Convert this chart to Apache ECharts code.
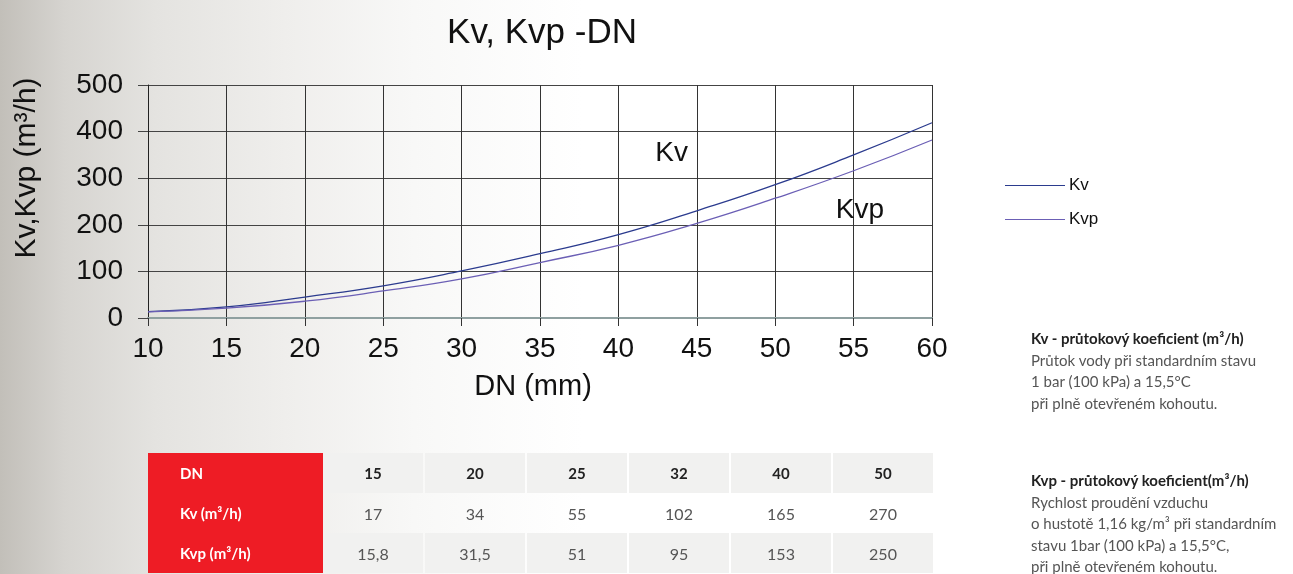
<!DOCTYPE html>
<html>
<head>
<meta charset="utf-8">
<script src="https://cdn.jsdelivr.net/npm/echarts@6/dist/echarts.min.js"></script>
<style>
  html, body { margin: 0; padding: 0; }
  body {
    width: 1293px; height: 574px; overflow: hidden; position: relative;
    background: linear-gradient(to right, #c2bfb9 0%, #d6d4d0 5%, #e4e3e0 12%, #efeeec 22%, #f8f8f7 32%, #ffffff 45%);
  }
  #chart { position: absolute; left: 0; top: 0; width: 1293px; height: 574px; }
  #table { position: absolute; left: 148px; top: 453px; font-family: Lato, "Noto Sans", sans-serif; }
  .row { display: flex; height: 40px; }
  .cell { width: 100px; margin-right: 2px; display: flex; align-items: center; justify-content: center;
    font-size: 16px; color: #555; }
  .head { width: 175px; margin-right: 0; background: #ee1c25; color: #fff; font-weight: bold;
    justify-content: flex-start; padding-left: 32px; box-sizing: border-box; font-size: 15px; }
  .gray .cell:not(.head) { background: #f1f1f0; }
  .dn .cell:not(.head) { font-weight: bold; color: #222; font-size: 15px; }
  .note { position: absolute; left: 1031px; font-family: Lato, "Noto Sans", sans-serif; font-size: 15px;
    line-height: 21.5px; color: #555; white-space: nowrap; }
  .note b { color: #222; font-size: 15px; }
</style>
</head>
<body>
<div id="chart"></div>
<div id="table"></div>
<div class="note" style="top:328px"><b>Kv - průtokový koeficient (m³/h)</b><br>Průtok vody při standardním stavu<br>1 bar (100 kPa) a 15,5°C<br>při plně otevřeném kohoutu.</div>
<div class="note" style="top:470px"><b>Kvp - průtokový koeficient(m³/h)</b><br>Rychlost proudění vzduchu<br>o hustotě 1,16 kg/m³ při standardním<br>stavu 1bar (100 kPa) a 15,5°C,<br>při plně otevřeném kohoutu.</div>
<script>
// Data
const dnValues = [10, 15, 20, 25, 30, 35, 40, 45, 50, 55, 60];
const kvValues = [13.5, 24, 45, 69, 101, 138, 179, 230, 286, 350, 419];
const kvpValues = [13, 21, 36, 58, 84, 119, 156, 203, 257, 316, 382];

// Table
const tableRowLabels = ['DN', 'Kv (m³/h)', 'Kvp (m³/h)'];
const tableDN = ['15', '20', '25', '32', '40', '50'];
const tableKv = ['17', '34', '55', '102', '165', '270'];
const tableKvp = ['15,8', '31,5', '51', '95', '153', '250'];

// Dom elements
const chartElement = document.getElementById('chart');
const tableElement = document.getElementById('table');

// Build the table
function createTable() {
  const rows = [tableDN, tableKv, tableKvp];
  const classes = ['row gray dn', 'row', 'row gray'];
  rows.forEach((values, i) => {
    const row = document.createElement('div');
    row.className = classes[i];
    const head = document.createElement('div');
    head.className = 'cell head';
    head.textContent = tableRowLabels[i];
    row.appendChild(head);
    values.forEach(v => {
      const cell = document.createElement('div');
      cell.className = 'cell';
      cell.textContent = v;
      row.appendChild(cell);
    });
    tableElement.appendChild(row);
  });
}

// label placed at a data coordinate (curve names inside the plot)
function curveLabel(text, coord) {
  return {
    symbol: 'circle',
    symbolSize: 1,
    itemStyle: { color: 'rgba(0,0,0,0)' },
    label: { show: true, position: 'inside', formatter: text, fontFamily: 'Liberation Sans', fontSize: 28, color: '#111' },
    data: [{ coord: coord }],
  };
}

function createChart() {
  const chart = echarts.init(chartElement, null, { renderer: 'canvas' });
  const font = 'Liberation Sans';

  const options = {
    animation: false,
    title: {
      text: 'Kv, Kvp -DN',
      left: 537,
      top: 11,
      textAlign: 'center',
      textStyle: { fontFamily: font, fontWeight: 'normal', fontSize: 35, color: '#111' },
    },
    legend: {
      orient: 'vertical',
      left: 1000,
      top: 172,
      itemGap: 17,
      itemWidth: 60,
      itemHeight: 1.2,
      icon: 'rect',
      textStyle: { fontFamily: font, fontSize: 17, color: '#111', padding: [0, 0, 0, -1] },
      data: ['Kv', 'Kvp'],
    },
    grid: { left: 148, top: 85, right: 361, bottom: 256 },
    xAxis: {
      type: 'value',
      min: 10,
      max: 60,
      interval: 5,
      name: 'DN (mm)',
      nameLocation: 'middle',
      nameGap: 54,
      nameTextStyle: { fontFamily: font, fontSize: 29, color: '#111', padding: [0, 14, 0, 0] },
      axisLine: { show: true, lineStyle: { color: '#8fa0a0', width: 2 } },
      axisTick: { show: true, length: 8, lineStyle: { color: '#333' } },
      axisLabel: { fontFamily: font, fontSize: 28, color: '#111', margin: 17 },
      splitLine: { show: true, lineStyle: { color: '#333', width: 1 } },
    },
    yAxis: {
      type: 'value',
      min: 0,
      max: 500,
      interval: 100,
      axisLine: { show: true, lineStyle: { color: '#222' } },
      axisTick: { show: true, length: 10, lineStyle: { color: '#444' } },
      axisLabel: { fontFamily: font, fontSize: 28, color: '#111', margin: 25 },
      splitLine: { show: true, lineStyle: { color: '#444', width: 1 } },
    },
    graphic: [{
      type: 'text',
      x: 27,
      y: 168,
      rotation: Math.PI / 2,
      style: {
        text: 'Kv,Kvp (m³/h)',
        fontFamily: font,
        fontSize: 30,
        fill: '#111',
        textAlign: 'center',
        textVerticalAlign: 'middle',
      },
    }],
    series: [
      {
        name: 'Kv',
        type: 'line',
        smooth: true,
        showSymbol: false,
        data: dnValues.map((d, i) => [d, kvValues[i]]),
        lineStyle: { color: '#2b3b8e', width: 1.3 },
        itemStyle: { color: '#2b3b8e' },
        markPoint: curveLabel('Kv', [43.4, 354]),
      },
      {
        name: 'Kvp',
        type: 'line',
        smooth: true,
        showSymbol: false,
        data: dnValues.map((d, i) => [d, kvpValues[i]]),
        lineStyle: { color: '#6b5fb5', width: 1.3 },
        itemStyle: { color: '#6b5fb5' },
        markPoint: curveLabel('Kvp', [55.4, 232]),
      },
    ],
  };

  chart.setOption(options);
}

createTable();
createChart();
</script>
</body>
</html>
